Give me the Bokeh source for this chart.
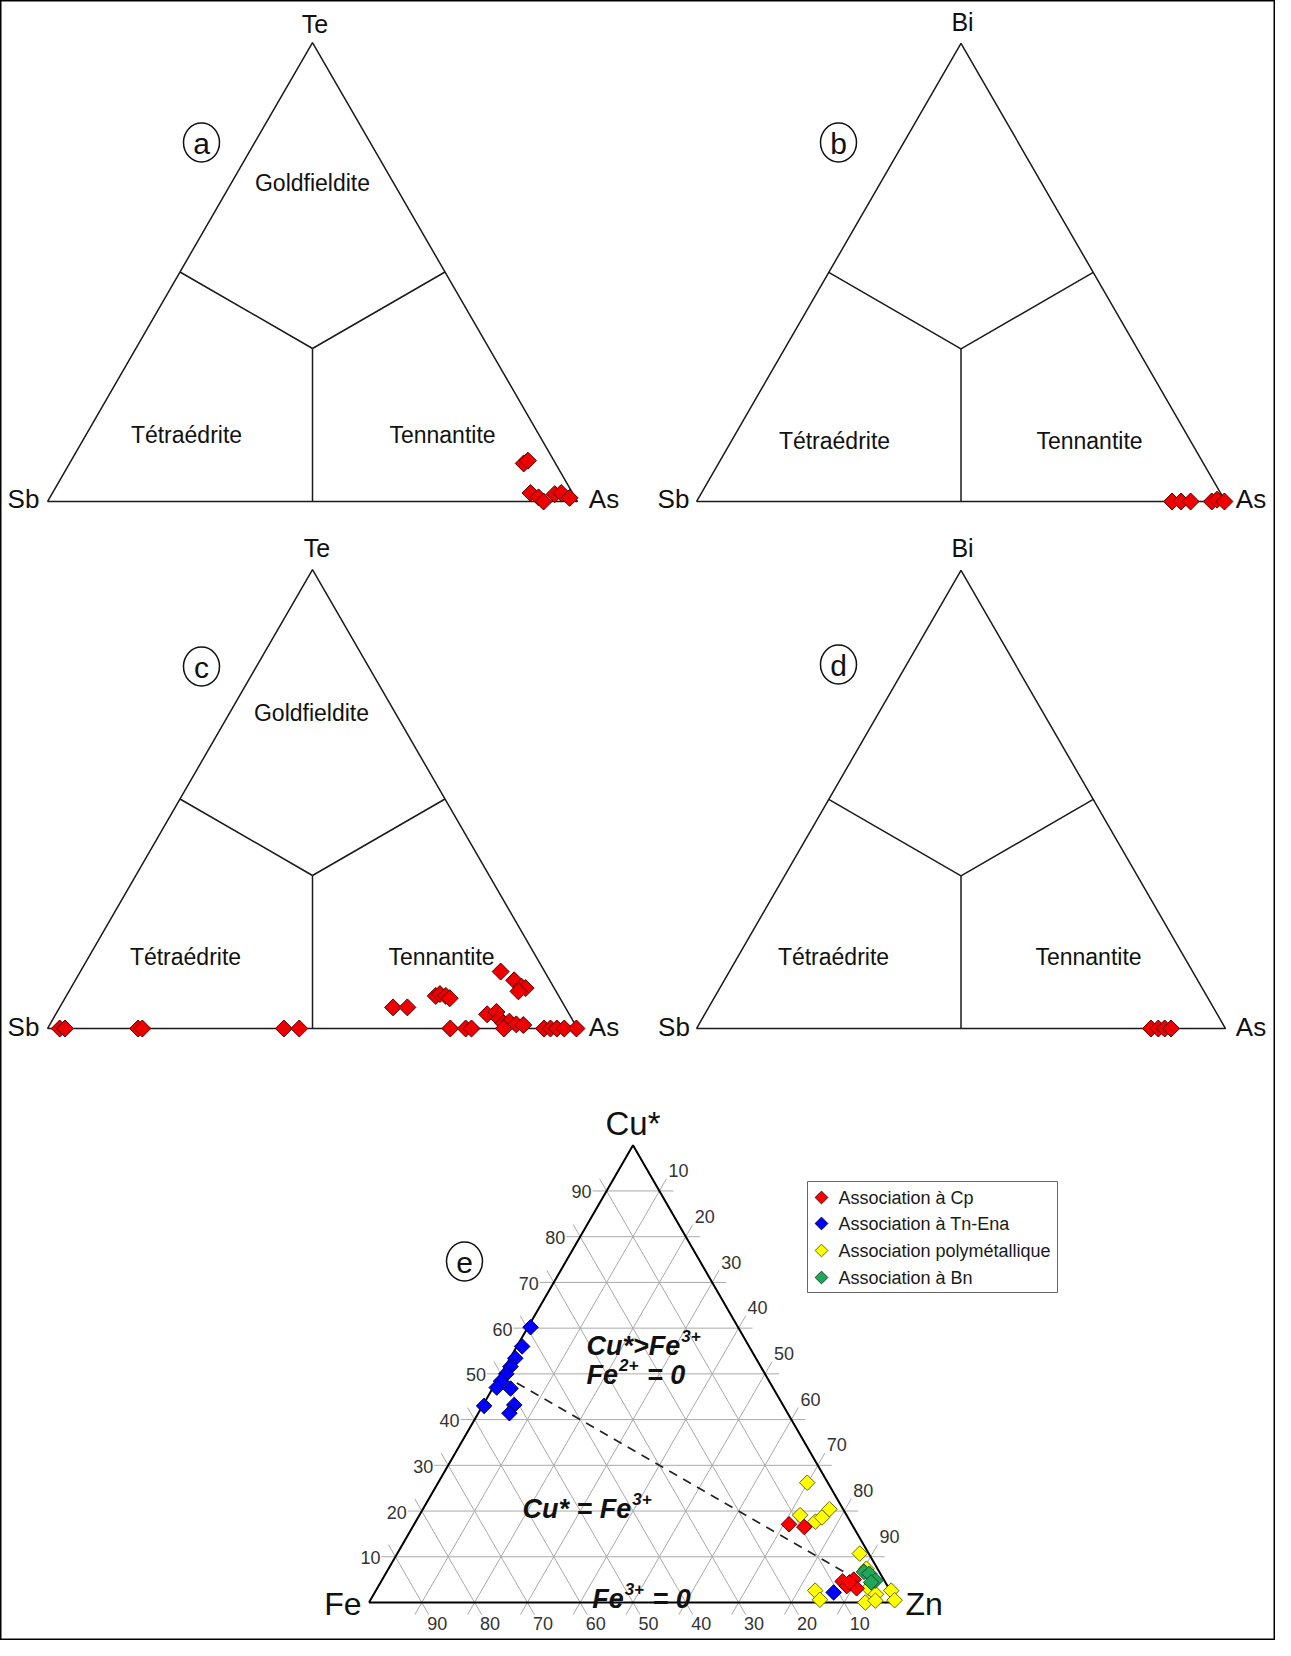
import numpy as np
from bokeh.plotting import figure
from bokeh.models import Range1d
from bokeh.core.properties import value
from bokeh.embed import file_html
from bokeh.resources import INLINE

# ------------------------------------------------------------------ data
# Panels a-d : Sb - As - X ternaries (values in %, Sb = 100 - As - X)
a_as = [85.7, 86.2, 90.2, 92.2, 93.6, 94.9, 96.0, 98.1]
a_te = [8.3, 8.9, 1.85, 0.9, 0.0, 1.6, 1.85, 0.8]

b_as = [89.9, 91.6, 93.4, 97.4, 98.2, 99.8]
b_bi = [0.0, 0.0, 0.0, 0.0, 0.4, 0.0]

c_as = [62.9, 65.6, 69.7, 70.3, 71.6, 72.6, 79.3, 82.8, 84.9, 85.8, 84.8,
        81.4, 82.9, 84.2, 85.5, 86.4, 88.0, 89.4,
        2.3, 3.3, 17.1, 17.9, 44.6, 47.5, 76.0, 78.9, 80.0, 86.1, 93.7,
        94.9, 96.1, 97.5, 99.8]
c_te = [4.6, 4.6, 7.1, 7.5, 7.1, 6.6, 12.4, 10.5, 9.1, 8.8, 8.1,
        3.1, 3.6, 2.1, 1.1, 1.5, 0.9, 0.75,
        0, 0, 0, 0, 0, 0, 0, 0, 0, 0, 0, 0, 0, 0, 0]

d_as = [85.9, 87.3, 88.5, 89.7]
d_bi = [0.0, 0.0, 0.0, 0.0]

# Panel e : Fe - Zn - Cu* ternary (values in %, Fe = 100 - Cu - Zn)
series_names = ["Association à Cp", "Association à Tn-Ena",
                "Association polymétallique", "Association à Bn"]
series_colors = ["#ff0000", "#0000ff", "#ffff00", "#1fa65a"]

cp_cu = [17.1, 16.5, 4.6, 3.6, 5.0, 3.1, 4.4]
cp_zn = [71.0, 74.2, 87.4, 88.7, 89.3, 90.8, 88.8]

tn_cu = [60.2, 56.0, 53.4, 51.6, 50.0, 48.4, 47.0, 46.8, 43.0, 43.2, 41.4, 2.2]
tn_zn = [0.5, 1.0, 1.0, 1.0, 1.0, 0.8, 0.7, 3.4, 0.3, 5.9, 5.9, 86.9]

poly_cu = [26.2, 19.1, 17.7, 18.6, 20.4, 10.7, 7.4, 3.1, 1.8, 0.0, 0.4, 2.6, 0.5, 2.6, 0.6]
poly_zn = [69.9, 72.1, 75.7, 76.5, 77.0, 87.6, 90.5, 93.1, 95.1, 94.0, 95.7, 97.6, 99.3, 83.2, 85.1]

bn_cu = [6.7, 6.3, 4.8, 4.4]
bn_zn = [90.4, 91.6, 93.5, 92.9]

tick_values = [10, 20, 30, 40, 50, 60, 70, 80, 90]
dashed_cu = [48, 6]
dashed_zn = [4, 88]

# ------------------------------------------------------------------ figure
W, H = 1275, 1640
p = figure(width=W, height=H, output_backend="svg", toolbar_location=None,
           x_range=Range1d(8, 8 + W), y_range=Range1d(8 + H, 8),
           x_axis_type=None, y_axis_type=None, min_border=0,
           background_fill_color="white", border_fill_color="white")
p.outline_line_color = "black"
p.outline_line_width = 2
p.grid.visible = False

FONT = value("Liberation Sans")
S3 = np.sqrt(3) / 2


def tern(origin, L, right, top):
    right = np.asarray(right, dtype=float) / 100.0
    top = np.asarray(top, dtype=float) / 100.0
    x = origin[0] + L * (right + top / 2)
    y = origin[1] - L * S3 * top
    return x, y


def txt(x, y, s, size, align="center", baseline="middle", style="normal", color="#111111"):
    p.text(x=[x], y=[y], text=[s], text_font=FONT, text_font_size=f"{size}px",
           text_align=align, text_baseline=baseline, text_font_style=style,
           text_color=color)


def circ_label(x, y, s):
    p.ellipse(x=[x], y=[y], width=36, height=39, fill_color=None,
              line_color="#111111", line_width=1.5)
    txt(x, y + 1, s, 30)


def diamonds(x, y, fill, size=11.5, line="#222222"):
    p.scatter(x=x, y=y, marker="square", size=size, angle=np.pi / 4,
              fill_color=fill, line_color=line, line_width=1)


# bold-italic rich text with superscripts (Arial-metric advance widths)
BI_W = {"C": .722, "u": .611, "*": .389, ">": .584, "F": .611, "e": .556,
        " ": .278, "=": .584, "0": .556, "2": .556, "3": .556, "+": .584}
MAIN, SUP = 27, 17


def wid(s, size):
    return sum(BI_W[c] for c in s) * size


def rich(x, yb, parts, align="left"):
    total = sum(wid(t, SUP if sup else MAIN) + (2 if sup else 0) for t, sup in parts)
    cx = x if align == "left" else x - total / 2
    for t, sup in parts:
        size = SUP if sup else MAIN
        lead = len(t) - len(t.lstrip(" "))
        body = t.strip(" ")
        cx += wid(" " * lead, size)
        p.text(x=[cx + (1 if sup else 0)], y=[yb - (10 if sup else 0)], text=[body],
               text_font=FONT, text_font_size=f"{size}px", text_font_style="bold italic",
               text_align="left", text_baseline="alphabetic", text_color="#111111")
        cx += wid(t.lstrip(" "), size) + (2 if sup else 0)


# ------------------------------------------------------------------ panels a-d
panels = [
    dict(o=(55, 509), L=530, top="Te", letter="a", circ=(209, 150),
         lab_top=(322.5, 31), lab_l=(31, 506), lab_r=(611.5, 506),
         gold=(320, 190), tet=(194, 442), ten=(450, 442), r=a_as, t=a_te),
    dict(o=(704, 509), L=529, top="Bi", letter="b", circ=(846, 150),
         lab_top=(970, 29), lab_l=(681, 506), lab_r=(1258.5, 506),
         gold=None, tet=(842, 448), ten=(1097, 448), r=b_as, t=b_bi),
    dict(o=(55, 1036), L=530, top="Te", letter="c", circ=(209, 674),
         lab_top=(324.5, 555), lab_l=(31, 1034), lab_r=(611.5, 1034),
         gold=(319, 720), tet=(193, 964), ten=(449, 964), r=c_as, t=c_te),
    dict(o=(704, 1036), L=529, top="Bi", letter="d", circ=(846, 672),
         lab_top=(970, 555), lab_l=(681.5, 1034), lab_r=(1258.5, 1034),
         gold=None, tet=(841, 964), ten=(1096, 964), r=d_as, t=d_bi),
]

for pn in panels:
    o, L = pn["o"], pn["L"]
    vx, vy = tern(o, L, [0, 100, 0, 0], [0, 0, 100, 0])
    p.line(vx, vy, line_color="#1a1a1a", line_width=1.5)
    cx, cy = tern(o, L, [100 / 3], [100 / 3])
    mx, my = tern(o, L, [50, 50, 0], [0, 50, 50])
    p.multi_line(xs=[[cx[0], mx[i]] for i in range(3)],
                 ys=[[cy[0], my[i]] for i in range(3)],
                 line_color="#1a1a1a", line_width=1.5)
    txt(*pn["lab_top"], pn["top"], 25)
    txt(*pn["lab_l"], "Sb", 26)
    txt(*pn["lab_r"], "As", 26)
    if pn["gold"]:
        txt(*pn["gold"], "Goldfieldite", 23)
    txt(*pn["tet"], "Tétraédrite", 23)
    txt(*pn["ten"], "Tennantite", 23)
    circ_label(*pn["circ"], pn["letter"])
    px, py = tern(o, L, pn["r"], pn["t"])
    diamonds(px, py, "#ee0000", size=12, line="#550000")

# ------------------------------------------------------------------ panel e
eo, eL = (376.5, 1610), 528
EXT = 14


def e_pt(cu, zn):
    return tern(eo, eL, zn, cu)


def ext_seg(x1, y1, x2, y2, e=EXT):
    dx, dy = x2 - x1, y2 - y1
    n = np.hypot(dx, dy)
    ux, uy = dx / n, dy / n
    return [x1 - ux * e, x2 + ux * e], [y1 - uy * e, y2 + uy * e]


gx, gy = [], []
for v in tick_values:
    x, y = e_pt([v, v], [0, 100 - v])            # constant Cu*
    sx, sy = ext_seg(x[0], y[0], x[1], y[1]); gx.append(sx); gy.append(sy)
    x, y = e_pt([0, 100 - v], [v, v])            # constant Zn
    sx, sy = ext_seg(x[0], y[0], x[1], y[1]); gx.append(sx); gy.append(sy)
    x, y = e_pt([0, 100 - v], [100 - v, 0])      # constant Fe
    sx, sy = ext_seg(x[0], y[0], x[1], y[1]); gx.append(sx); gy.append(sy)
p.multi_line(xs=gx, ys=gy, line_color="#a9a9a9", line_width=1)

for v in tick_values:
    lx, ly = e_pt([v], [0])
    txt(lx[0] - EXT - 1, ly[0] + 1, str(v), 18, align="right", color="#333333")
    rx, ry = e_pt([100 - v], [v])
    txt(rx[0] + 0.5 * 16 + 1, ry[0] - S3 * 16, str(v), 18, align="left",
        baseline="bottom", color="#333333")
    bx, by = e_pt([0], [100 - v])
    txt(bx[0] + 15.5, by[0] + 14, str(v), 18, align="center", baseline="top",
        color="#333333")

tx, ty = e_pt([0, 0, 100, 0], [0, 100, 0, 0])
p.line(tx, ty, line_color="black", line_width=2)

dx_, dy_ = e_pt(dashed_cu, dashed_zn)
p.line(dx_, dy_, line_color="#222222", line_width=1.6, line_dash="9 7")

txt(640.5, 1131, "Cu*", 33)
txt(369, 1611, "Fe", 32, align="right")
txt(913, 1611, "Zn", 32, align="left")

rich(594, 1353.5, [("Cu*>Fe", False), ("3+", True)])
rich(594, 1382.5, [("Fe", False), ("2+", True), (" = 0", False)])
rich(595, 1516, [("Cu* = Fe", False), ("3+", True)], align="center")
rich(649, 1606, [("Fe", False), ("3+", True), (" = 0", False)], align="center")

circ_label(472, 1269, "e")

ex, ey = e_pt(poly_cu, poly_zn)
diamonds(ex, ey, series_colors[2], size=11, line="#6b6b00")
ex, ey = e_pt(cp_cu, cp_zn)
diamonds(ex, ey, series_colors[0], size=11, line="#550000")
ex, ey = e_pt(tn_cu, tn_zn)
diamonds(ex, ey, series_colors[1], size=11, line="#000055")
ex, ey = e_pt(bn_cu, bn_zn)
diamonds(ex, ey, series_colors[3], size=11, line="#0b4d25")

# legend
p.quad(left=[815], right=[1065], top=[1189], bottom=[1300],
       fill_color="white", line_color="#666666", line_width=1)
rows_y = [1205, 1231, 1258, 1285]
outl = ["#550000", "#000055", "#6b6b00", "#0b4d25"]
for i, name in enumerate(series_names):
    p.scatter(x=[829], y=[rows_y[i]], marker="square", size=9, angle=np.pi / 4,
              fill_color=series_colors[i], line_color=outl[i], line_width=1)
    txt(846, rows_y[i], name, 18, align="left", color="#1a1a1a")

open("out.html", "w").write(file_html(p, INLINE, title="Ternary diagrams"))
